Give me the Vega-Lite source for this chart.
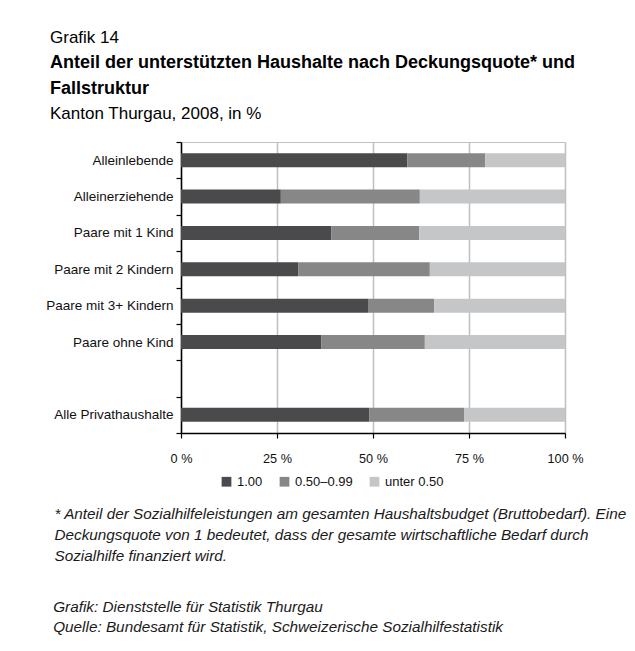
{
  "$schema": "https://vega.github.io/schema/vega-lite/v6.json",
  "padding": {"left": 45, "top": 29, "right": 5, "bottom": 5},
  "background": "white",
  "title": {"text": "Grafik 14", "anchor": "start", "frame": "group", "dx": -131, "font": "Liberation Sans", "fontSize": 17, "fontWeight": "normal", "color": "#000000", "offset": 6},
  "config": {
    "font": "Liberation Sans",
    "view": {"stroke": "#c0c0c0", "strokeWidth": 1},
    "concat": {"spacing": 0}
  },
  "vconcat": [
    {
      "width": 384,
      "height": 291,
      "title": {
        "text": ["Anteil der unterstützten Haushalte nach Deckungsquote* und", "Fallstruktur"],
        "subtitle": "Kanton Thurgau, 2008, in %",
        "anchor": "start",
        "frame": "group",
        "dx": -131,
        "font": "Liberation Sans",
        "fontSize": 18,
        "fontWeight": "bold",
        "color": "#000000",
        "lineHeight": 26.5,
        "subtitleFont": "Liberation Sans",
        "subtitleFontSize": 17,
        "subtitleColor": "#000000",
        "subtitlePadding": 8,
        "offset": 13
      },
      "data": {
        "values": [
          {"Fall": "Alleinlebende", "Quote": "1.00", "Anteil": 58.9},
          {"Fall": "Alleinlebende", "Quote": "0.50–0.99", "Anteil": 20.3},
          {"Fall": "Alleinlebende", "Quote": "unter 0.50", "Anteil": 20.8},
          {"Fall": "Alleinerziehende", "Quote": "1.00", "Anteil": 26.0},
          {"Fall": "Alleinerziehende", "Quote": "0.50–0.99", "Anteil": 36.2},
          {"Fall": "Alleinerziehende", "Quote": "unter 0.50", "Anteil": 37.8},
          {"Fall": "Paare mit 1 Kind", "Quote": "1.00", "Anteil": 39.1},
          {"Fall": "Paare mit 1 Kind", "Quote": "0.50–0.99", "Anteil": 22.9},
          {"Fall": "Paare mit 1 Kind", "Quote": "unter 0.50", "Anteil": 38.0},
          {"Fall": "Paare mit 2 Kindern", "Quote": "1.00", "Anteil": 30.5},
          {"Fall": "Paare mit 2 Kindern", "Quote": "0.50–0.99", "Anteil": 34.3},
          {"Fall": "Paare mit 2 Kindern", "Quote": "unter 0.50", "Anteil": 35.2},
          {"Fall": "Paare mit 3+ Kindern", "Quote": "1.00", "Anteil": 48.7},
          {"Fall": "Paare mit 3+ Kindern", "Quote": "0.50–0.99", "Anteil": 17.2},
          {"Fall": "Paare mit 3+ Kindern", "Quote": "unter 0.50", "Anteil": 34.1},
          {"Fall": "Paare ohne Kind", "Quote": "1.00", "Anteil": 36.5},
          {"Fall": "Paare ohne Kind", "Quote": "0.50–0.99", "Anteil": 27.0},
          {"Fall": "Paare ohne Kind", "Quote": "unter 0.50", "Anteil": 36.5},
          {"Fall": "Alle Privathaushalte", "Quote": "1.00", "Anteil": 49.0},
          {"Fall": "Alle Privathaushalte", "Quote": "0.50–0.99", "Anteil": 24.7},
          {"Fall": "Alle Privathaushalte", "Quote": "unter 0.50", "Anteil": 26.3}
        ]
      },
      "transform": [
        {"calculate": "indexof(['1.00','0.50–0.99','unter 0.50'], datum.Quote)", "as": "Reihenfolge"}
      ],
      "mark": {"type": "bar", "size": 14},
      "encoding": {
        "y": {
          "field": "Fall",
          "type": "nominal",
          "scale": {
            "domain": ["Alleinlebende", "Alleinerziehende", "Paare mit 1 Kind", "Paare mit 2 Kindern", "Paare mit 3+ Kindern", "Paare ohne Kind", " ", "Alle Privathaushalte"],
            "paddingInner": 0,
            "paddingOuter": 0
          },
          "axis": {
            "title": ["Grafik: Dienststelle für Statistik Thurgau", "Quelle: Bundesamt für Statistik, Schweizerische Sozialhilfestatistik"],
            "titleX": -128.3,
            "titleY": 469.7,
            "titleAngle": 0,
            "titleAlign": "left",
            "titleBaseline": "alphabetic",
            "titleFont": "Liberation Sans",
            "titleFontStyle": "italic",
            "titleFontWeight": "normal",
            "titleFontSize": 15.3,
            "titleLineHeight": 20,
            "titleColor": "#1a1a1a",
            "labelFont": "Liberation Sans",
            "labelFontSize": 13.5,
            "labelColor": "#111111",
            "labelPadding": 3,
            "labelLimit": 300,
            "tickSize": 5,
            "tickBand": "extent",
            "tickColor": "#000000",
            "tickWidth": 1.2,
            "domainColor": "#000000",
            "domainWidth": 1.5,
            "grid": false
          }
        },
        "x": {
          "field": "Anteil",
          "type": "quantitative",
          "stack": "zero",
          "scale": {"domain": [0, 100], "nice": false},
          "axis": {
            "values": [0, 25, 50, 75, 100],
            "labelExpr": "datum.value + ' %'",
            "labelFont": "Liberation Sans",
            "labelFontSize": 12.7,
            "labelColor": "#111111",
            "labelBaseline": "alphabetic",
            "labelPadding": 24.7,
            "labelFlush": false,
            "labelOverlap": false,
            "tickSize": 5,
            "tickColor": "#000000",
            "tickWidth": 1.2,
            "domainColor": "#000000",
            "domainWidth": 1.5,
            "grid": true,
            "gridColor": "#bfbfbf",
            "gridWidth": 1.5,
            "title": ["* Anteil der Sozialhilfeleistungen am gesamten Haushaltsbudget (Bruttobedarf). Eine", "\u00a0\u00a0Deckungsquote von 1 bedeutet, dass der gesamte wirtschaftliche Bedarf durch", "\u00a0\u00a0Sozialhilfe finanziert wird."],
            "titleX": -127,
            "titleY": 85,
            "titleAlign": "left",
            "titleAnchor": "start",
            "titleBaseline": "alphabetic",
            "titleFont": "Liberation Sans",
            "titleFontStyle": "italic",
            "titleFontWeight": "normal",
            "titleFontSize": 15.3,
            "titleLineHeight": 21,
            "titleColor": "#1a1a1a"
          }
        },
        "color": {
          "field": "Quote",
          "type": "nominal",
          "scale": {"domain": ["1.00", "0.50–0.99", "unter 0.50"], "range": ["#4a4a4c", "#878787", "#c5c6c8"]},
          "legend": {
            "orient": "none",
            "legendX": 39,
            "legendY": 333,
            "direction": "horizontal",
            "title": null,
            "symbolType": "square",
            "symbolSize": 95,
            "symbolStrokeWidth": 0,
            "labelFont": "Liberation Sans",
            "labelFontSize": 13,
            "labelColor": "#111111",
            "labelOffset": 4,
            "columnPadding": 15,
            "padding": 0
          }
        },
        "order": {"field": "Reihenfolge", "type": "quantitative", "sort": "ascending"}
      }
    }
  ]
}
